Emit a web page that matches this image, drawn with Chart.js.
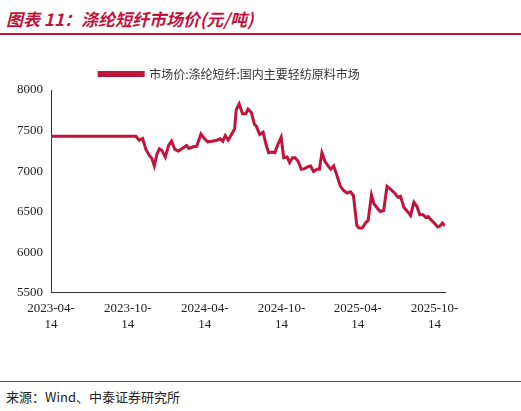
<!DOCTYPE html><html><head><meta charset="utf-8">
<script src="https://cdn.jsdelivr.net/npm/chart.js@4"></script>
<style>
body{margin:0;width:521px;height:411px;background:#fff;font-family:"Noto Sans CJK SC",sans-serif;position:relative;overflow:hidden}
#t{position:absolute;left:6px;top:6px;color:#c0143c;font-style:italic;font-weight:bold;font-size:17px}
#l1{position:absolute;left:0;top:33px;width:521px;height:2px;background:#c0143c}
#cw{position:absolute;left:0;top:30px;width:521px;height:305px}
#l2{position:absolute;left:0;top:381px;width:521px;height:1px;background:#c0143c}
#s{position:absolute;left:6px;top:387px;font-size:13px;color:#222}
</style></head><body>
<div id="t">图表 11：涤纶短纤市场价(元/吨)</div><div id="l1"></div>
<div id="cw"><canvas id="c"></canvas></div>
<div id="l2"></div><div id="s">来源：Wind、中泰证券研究所</div>
<script>
const days=[0,202,210,218,226,234,240,246,252,258,264,272,280,287,295,303,315,323,328,339,347,357,365,373,383,395,403,409,415,422,431,437,441,448,456,464,469,477,484,489,497,505,512,518,526,533,540,548,554,562,568,575,581,588,596,604,612,618,625,633,639,645,653,661,666,673,681,689,697,705,713,720,728,733,741,749,755,763,769,777,784,792,800,808,818,826,832,840,850,856,864,871,878,886,892,898,906,914,921,926,932,938];
const prices=[7430,7430,7381,7402,7267,7194,7158,7064,7206,7276,7255,7174,7316,7369,7267,7247,7288,7316,7280,7300,7308,7459,7402,7361,7369,7381,7398,7369,7438,7381,7463,7520,7756,7829,7707,7707,7764,7723,7581,7552,7451,7479,7328,7227,7235,7227,7328,7418,7166,7174,7105,7166,7166,7125,7023,7031,7056,7064,6995,7023,7023,7227,7113,7056,7023,7064,6942,6812,6759,6730,6746,6698,6331,6299,6299,6364,6392,6706,6596,6543,6502,6514,6812,6779,6730,6677,6689,6555,6494,6453,6616,6567,6462,6462,6429,6441,6392,6352,6311,6323,6360,6323];
const tickDays=[0,183,366,549,730,913];
const tickLabels=[["2023-04-","14"],["2023-10-","14"],["2024-04-","14"],["2024-10-","14"],["2025-04-","14"],["2025-10-","14"]];
const seriesName="市场价:涤纶短纤:国内主要轻纺原料市场";
const F="'Times New Roman','Liberation Serif',serif";
new Chart(document.getElementById('c'),{type:'line',
data:{datasets:[{label:seriesName,data:days.map((d,i)=>({x:d,y:prices[i]})),borderColor:'#c0143c',borderWidth:3,pointRadius:0,tension:0}]},
options:{responsive:true,maintainAspectRatio:false,animation:false,
layout:{padding:{left:14,right:76,top:35,bottom:0}},
plugins:{legend:{position:'top',align:'center',labels:{boxWidth:44,boxHeight:3,color:'#333',font:{size:12,family:"'Noto Sans CJK SC'"},padding:3},
 onClick:null},tooltip:{enabled:false}},
scales:{x:{type:'linear',min:0,max:938,grid:{display:false,drawTicks:true,tickLength:5,tickColor:'#333'},border:{color:'#333'},
 afterBuildTicks:a=>{a.ticks=tickDays.map(v=>({value:v}));},
 ticks:{autoSkip:false,maxRotation:0,color:'#222',font:{size:13,family:F},callback:(v,i)=>tickLabels[i]}},
 y:{min:5500,max:8000,grid:{display:false,tickLength:5,tickColor:'#333'},border:{color:'#333'},
 ticks:{stepSize:500,color:'#222',font:{size:13,family:F},callback:v=>String(v)}}}}});
</script></body></html>
